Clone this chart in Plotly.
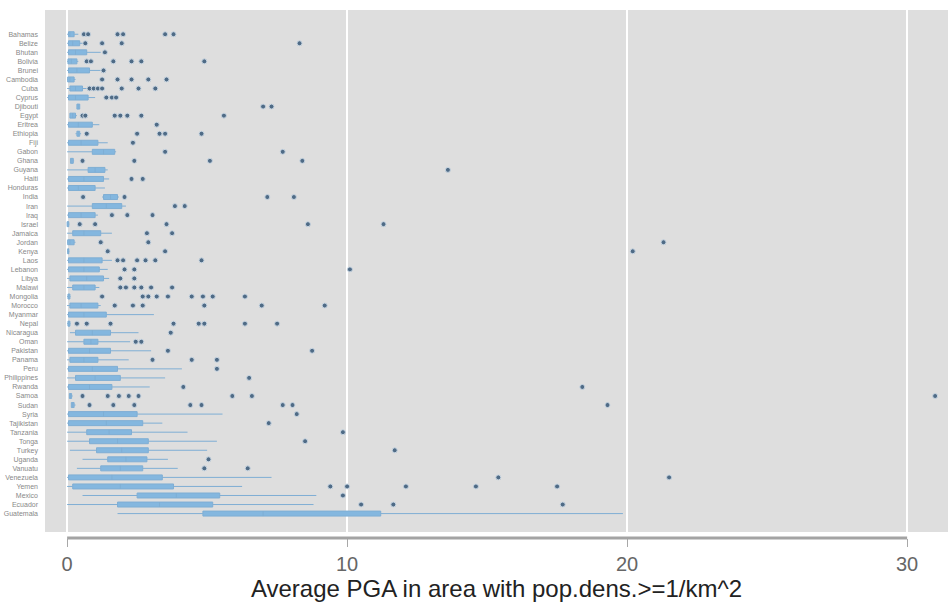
import plotly.graph_objects as go

# Countries, listed top to bottom
countries = [
    "Bahamas", "Belize", "Bhutan", "Bolivia", "Brunei", "Cambodia", "Cuba",
    "Cyprus", "Djibouti", "Egypt", "Eritrea", "Ethiopia", "Fiji", "Gabon",
    "Ghana", "Guyana", "Haiti", "Honduras", "India", "Iran", "Iraq", "Israel",
    "Jamaica", "Jordan", "Kenya", "Laos", "Lebanon", "Libya", "Malawi",
    "Mongolia", "Morocco", "Myanmar", "Nepal", "Nicaragua", "Oman",
    "Pakistan", "Panama", "Peru", "Philippines", "Rwanda", "Samoa", "Sudan",
    "Syria", "Tajikistan", "Tanzania", "Tonga", "Turkey", "Uganda",
    "Vanuatu", "Venezuela", "Yemen", "Mexico", "Ecuador", "Guatemala",
]

# Box statistics of average PGA per country
q1 = [0.05, 0.05, 0.05, 0.03, 0.05, 0.02, 0.10, 0.05, 0.35, 0.10,
      0.05, 0.35, 0.05, 0.90, 0.12, 0.75, 0.05, 0.05, 1.30, 0.90,
      0.05, 0.00, 0.20, 0.02, 0.02, 0.05, 0.05, 0.10, 0.20, 0.03,
      0.10, 0.05, 0.03, 0.30, 0.60, 0.05, 0.10, 0.05, 0.30, 0.05,
      0.08, 0.15, 0.05, 0.05, 0.70, 0.80, 1.05, 1.45, 1.20, 0.05,
      0.20, 2.50, 1.80, 4.85]
median = [0.10, 0.20, 0.30, 0.15, 0.35, 0.10, 0.30, 0.30, 0.40, 0.20,
          0.40, 0.40, 0.50, 1.30, 0.17, 1.00, 0.60, 0.40, 1.55, 1.40,
          0.50, 0.03, 0.60, 0.10, 0.04, 0.60, 0.60, 0.70, 0.60, 0.06,
          0.50, 0.60, 0.06, 0.90, 0.85, 0.80, 0.60, 0.90, 1.00, 0.80,
          0.12, 0.20, 1.30, 1.40, 1.50, 1.80, 1.95, 2.10, 1.90, 1.60,
          1.90, 3.90, 3.30, 7.00]
q3 = [0.25, 0.45, 0.70, 0.35, 0.80, 0.25, 0.55, 0.75, 0.45, 0.30,
      0.90, 0.45, 1.10, 1.70, 0.22, 1.35, 1.30, 1.00, 1.80, 1.95,
      1.00, 0.06, 1.20, 0.25, 0.06, 1.25, 1.15, 1.30, 1.00, 0.10,
      1.10, 1.40, 0.10, 1.55, 1.10, 1.55, 1.10, 1.80, 1.90, 1.60,
      0.16, 0.25, 2.50, 2.70, 2.30, 2.90, 2.90, 2.85, 2.70, 3.40,
      3.80, 5.45, 5.20, 11.20]
lower = [0.00, 0.00, 0.00, 0.00, 0.00, 0.00, 0.00, 0.00, 0.35, 0.10,
         0.00, 0.30, 0.00, 0.00, 0.12, 0.00, 0.00, 0.00, 1.25, 0.00,
         0.00, 0.00, 0.00, 0.00, 0.00, 0.00, 0.00, 0.00, 0.00, 0.00,
         0.00, 0.00, 0.00, 0.10, 0.00, 0.00, 0.00, 0.00, 0.00, 0.00,
         0.08, 0.15, 0.00, 0.00, 0.00, 0.00, 0.10, 0.55, 0.35, 0.00,
         0.00, 0.55, 0.00, 1.80]
upper = [0.40, 0.55, 1.20, 0.40, 1.20, 0.30, 0.70, 1.00, 0.45, 0.35,
         1.15, 0.50, 1.45, 1.75, 0.25, 1.45, 1.50, 1.35, 1.85, 2.10,
         1.10, 0.08, 1.60, 0.30, 0.08, 1.60, 1.45, 1.50, 1.15, 0.12,
         1.20, 3.10, 0.12, 2.55, 2.25, 3.00, 2.20, 4.10, 3.50, 2.95,
         0.20, 0.30, 5.55, 3.40, 4.30, 5.35, 5.00, 3.60, 3.95, 7.30,
         6.25, 8.90, 8.80, 19.85]

# Outlying values per country (same order as above)
outliers = [
    [0.6, 0.75, 1.8, 2.0, 3.5, 3.8],
    [0.65, 1.25, 1.95, 8.3],
    [1.35],
    [0.7, 0.85, 1.65, 2.3, 2.65, 4.9],
    [1.3],
    [1.25, 1.8, 2.3, 2.9, 3.55],
    [0.8, 0.95, 1.1, 1.25, 1.95, 2.55, 3.15],
    [1.4, 1.6, 1.75],
    [7.0, 7.3],
    [0.55, 0.65, 1.7, 1.9, 2.15, 2.65, 5.6],
    [3.2],
    [0.7, 2.5, 3.3, 3.5, 4.8],
    [2.35],
    [3.5, 7.7],
    [0.55, 2.4, 5.1, 8.4],
    [13.6],
    [2.3, 2.7],
    [],
    [0.57, 2.05, 7.15, 8.1],
    [3.85, 4.2],
    [1.6, 2.15, 3.05],
    [0.45, 1.0, 3.55, 8.6, 11.3],
    [2.85, 3.75],
    [1.2, 2.9, 21.3],
    [1.45, 3.5, 20.2],
    [1.8, 2.0, 2.5, 2.8, 3.15, 4.8],
    [2.05, 2.4, 10.1],
    [1.9, 2.4],
    [1.9, 2.1, 2.4, 2.65, 3.0, 3.75],
    [1.25, 2.7, 2.9, 3.2, 3.6, 4.45, 4.85, 5.2, 6.35],
    [1.7, 2.35, 2.7, 4.9, 6.95, 9.2],
    [],
    [0.35, 0.7, 1.55, 3.8, 4.7, 4.9, 6.35, 7.5],
    [3.7],
    [2.45, 2.65],
    [3.6, 8.75],
    [3.05, 4.45, 5.35],
    [5.35],
    [6.5],
    [4.15, 18.4],
    [0.55, 1.45, 1.85, 2.2, 2.55, 5.9, 6.6, 31.0],
    [0.8, 1.65, 2.4, 4.4, 4.8, 7.7, 8.05, 19.3],
    [8.2],
    [7.2],
    [9.85],
    [8.5],
    [11.7],
    [5.05],
    [4.9, 6.45],
    [15.4, 21.5],
    [9.4, 10.0, 12.1, 14.6, 17.5],
    [9.85],
    [10.5, 11.65, 17.7],
    [],
]

x_ticks = [0, 10, 20, 30]

out_x, out_y = [], []
for name, vals in zip(countries, outliers):
    for v in vals:
        out_x.append(v)
        out_y.append(name)

fig = go.Figure()

fig.add_trace(go.Box(
    y=countries,
    q1=q1, median=median, q3=q3,
    lowerfence=lower, upperfence=upper,
    orientation="h",
    boxpoints=False,
    fillcolor="#84b7df",
    line=dict(color="#7faed4", width=1),
    whiskerwidth=0,
    width=0.55,
    showlegend=False,
    hoverinfo="skip",
))

fig.add_trace(go.Scatter(
    x=out_x, y=out_y,
    mode="markers",
    marker=dict(size=5, color="#4f6b86",
                line=dict(color="#c9d6e2", width=1)),
    showlegend=False,
    hoverinfo="skip",
))

n = len(countries)
fig.update_layout(
    width=948, height=616,
    margin=dict(l=45, r=0, t=10, b=78),
    paper_bgcolor="white",
    plot_bgcolor="white",
    font=dict(family="Liberation Sans, Arial, sans-serif", color="#444"),
    shapes=[
        # gray plot region, leaving a thin white gap above the axis line
        dict(type="rect", xref="paper", yref="paper",
             x0=0, x1=1, y0=6 / 528, y1=1,
             fillcolor="#dedede", line=dict(width=0), layer="below"),
    ],
)

fig.update_xaxes(
    range=[-0.79, 31.46],
    tickvals=x_ticks,
    ticktext=[str(t) for t in x_ticks],
    showgrid=True, gridcolor="white", gridwidth=1.5,
    zeroline=False,
    showline=False,
    ticks="outside", ticklen=8, tickcolor="#a8a8a8", tickwidth=1,
    tickfont=dict(size=20, color="#666"),
    title=dict(text="Average PGA in area with pop.dens.>=1/km^2",
               font=dict(size=24, color="#222"), standoff=6),
)

fig.update_yaxes(
    type="category",
    categoryorder="array",
    categoryarray=countries,
    range=[n + 1.7, -2.68],
    showgrid=False, zeroline=False, showline=False,
    ticks="",
    tickfont=dict(size=7, color="#888"),
    ticklabelstandoff=6,
)

# axis line sitting just below the gray region
fig.add_shape(type="line", xref="x", yref="paper",
              x0=0, x1=30, y0=0, y1=0,
              line=dict(color="#a3a3a3", width=3))

fig.write_html("out.html")
